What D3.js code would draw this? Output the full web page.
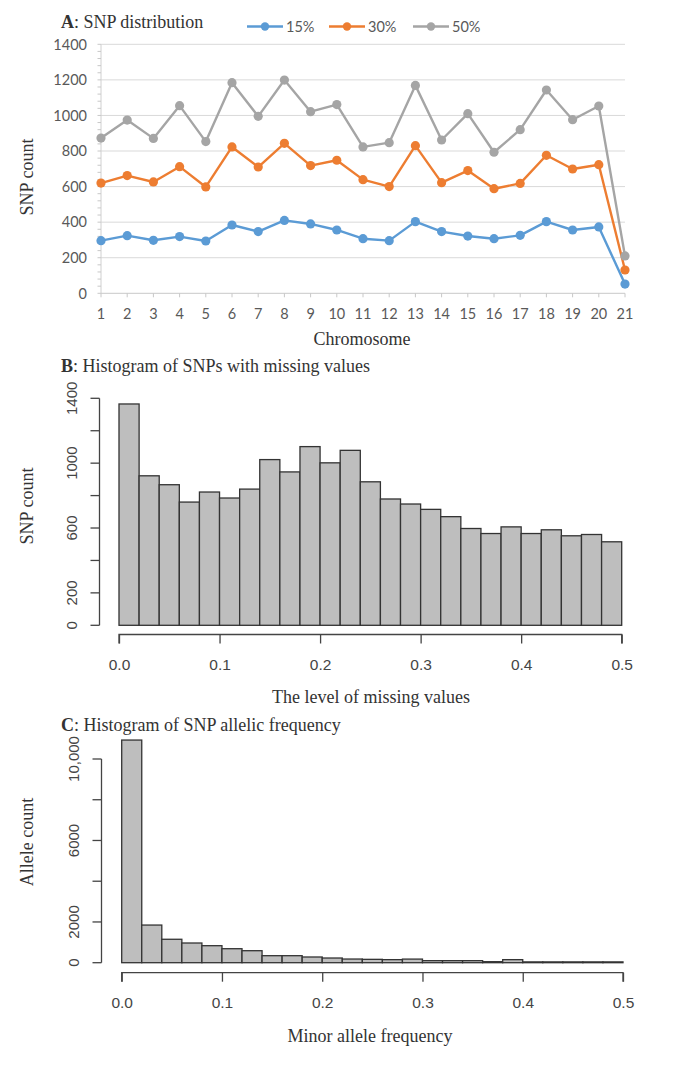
<!DOCTYPE html>
<html>
<head>
<meta charset="utf-8">
<script src="https://cdn.jsdelivr.net/npm/d3@7"></script>
<style>
  html, body { margin: 0; padding: 0; background: #fff; }
  svg { display: block; }
</style>
</head>
<body>
<svg id="chart" width="676" height="1075"></svg>
<script>
// ---------- DATA ----------
const chromosomes = ["1","2","3","4","5","6","7","8","9","10","11","12","13","14","15","16","17","18","19","20","21"];
const seriesNames = ["15%", "30%", "50%"];
const snp15 = [296,324,298,319,294,384,347,410,390,356,307,296,403,347,322,307,326,403,356,373,52];
const snp30 = [620,662,626,712,598,823,710,843,718,748,639,600,830,622,690,588,618,776,699,723,131];
const snp50 = [873,974,871,1055,853,1184,995,1199,1021,1061,823,847,1169,862,1010,793,920,1143,976,1053,210];
const yTicksA = [0,200,400,600,800,1000,1200,1400];

const binStarts = [0,0.02,0.04,0.06,0.08,0.10,0.12,0.14,0.16,0.18,0.20,0.22,0.24,0.26,0.28,0.30,0.32,0.34,0.36,0.38,0.40,0.42,0.44,0.46,0.48];
const binWidth = 0.02;
const missingCounts = [1365,922,867,760,822,785,840,1022,946,1102,1002,1079,885,779,748,715,670,597,566,607,566,589,552,560,515];
const yTicksB = [0,200,400,600,800,1000,1200,1400];
const yLabelsB = ["0","200","600","1000","1400"];

const mafCounts = [10930,1848,1150,967,835,687,589,344,344,280,230,180,165,150,177,100,100,100,50,150,40,40,40,40,40];
const yTicksC = [0,2000,4000,6000,8000,10000];
const yLabelsC = ["0","2000","6000","10,000"];
const xTicksHist = [0,0.1,0.2,0.3,0.4,0.5];

// ---------- STYLE ----------
const colors = ["#5B9BD5", "#ED7D31", "#A5A5A5"];
const serif = "'Liberation Serif', 'Times New Roman', serif";
const sansA = "Lato, 'Open Sans', sans-serif";
const sansR = "'Liberation Sans', Arial, sans-serif";
const textDark = "#333";

const svg = d3.select("#chart");
svg.append("rect").attr("width", 676).attr("height", 1075).attr("fill", "#fff");

function title(y, letter, rest) {
  const t = svg.append("text").attr("x", 61).attr("y", y)
    .attr("font-family", serif).attr("font-size", 18).attr("fill", textDark);
  t.append("tspan").attr("font-weight", "bold").text(letter);
  t.append("tspan").text(rest);
}
function ylab(x, y, txt) {
  svg.append("text").attr("transform", `translate(${x},${y}) rotate(-90)`)
    .attr("text-anchor", "middle").attr("font-family", serif).attr("font-size", 18)
    .attr("fill", textDark).text(txt);
}
function xlab(x, y, txt) {
  svg.append("text").attr("x", x).attr("y", y).attr("text-anchor", "middle")
    .attr("font-family", serif).attr("font-size", 18).attr("fill", textDark).text(txt);
}

// ---------- PANEL A ----------
const xA = d3.scalePoint().domain(chromosomes).range([101, 625]);
const yA = d3.scaleLinear().domain([0, 1400]).range([293.3, 44.3]);
const gA = svg.append("g");

gA.selectAll("line.grid").data(yTicksA.filter(d => d > 0)).join("line")
  .attr("x1", 101).attr("x2", 625).attr("y1", d => yA(d)).attr("y2", d => yA(d))
  .attr("stroke", "#D9D9D9").attr("stroke-width", 1);
gA.append("line").attr("x1", 101).attr("x2", 101).attr("y1", yA(0)).attr("y2", yA(1400))
  .attr("stroke", "#D0D0D0").attr("stroke-width", 1);
gA.selectAll("line.minor").data(d3.range(0, 1401, 40)).join("line")
  .attr("x1", 97.5).attr("x2", 101).attr("y1", d => yA(d)).attr("y2", d => yA(d))
  .attr("stroke", "#C8C8C8").attr("stroke-width", 1);
gA.append("line").attr("x1", 101).attr("x2", 625).attr("y1", yA(0)).attr("y2", yA(0))
  .attr("stroke", "#C8C8C8").attr("stroke-width", 1);
gA.selectAll("line.xt").data(chromosomes).join("line")
  .attr("x1", d => xA(d)).attr("x2", d => xA(d)).attr("y1", yA(0)).attr("y2", yA(0) + 4)
  .attr("stroke", "#C8C8C8").attr("stroke-width", 1);
gA.selectAll("text.yt").data(yTicksA).join("text")
  .attr("x", 87).attr("y", d => yA(d)).attr("dy", "0.36em").attr("text-anchor", "end")
  .attr("font-family", sansA).attr("font-size", 14.5).attr("fill", "#595959").text(d => d);
gA.selectAll("text.xt").data(chromosomes).join("text")
  .attr("x", d => xA(d)).attr("y", 318.5).attr("text-anchor", "middle")
  .attr("font-family", sansA).attr("font-size", 14.5).attr("fill", "#595959").text(d => d);

const seriesA = [snp15, snp30, snp50];
const lineA = d3.line().x((d, i) => xA(chromosomes[i])).y(d => yA(d));
seriesA.forEach((vals, si) => {
  gA.append("path").datum(vals).attr("d", lineA).attr("fill", "none")
    .attr("stroke", colors[si]).attr("stroke-width", 2.4).attr("stroke-linejoin", "round");
  gA.selectAll(null).data(vals).join("circle")
    .attr("cx", (d, i) => xA(chromosomes[i])).attr("cy", d => yA(d)).attr("r", 4.6)
    .attr("fill", colors[si]);
});

const legX = [247, 329, 413];
seriesNames.forEach((name, i) => {
  const lg = svg.append("g").attr("transform", `translate(${legX[i]},26.5)`);
  lg.append("line").attr("x1", 0).attr("x2", 36).attr("y1", 0).attr("y2", 0)
    .attr("stroke", colors[i]).attr("stroke-width", 2.4);
  lg.append("circle").attr("cx", 18).attr("cy", 0).attr("r", 4.2).attr("fill", colors[i]);
  lg.append("text").attr("x", 39).attr("y", 0).attr("dy", "0.36em")
    .attr("font-family", sansA).attr("font-size", 14.5).attr("fill", "#595959").text(name);
});

title(28, "A", ": SNP distribution");
ylab(33, 177, "SNP count");
xlab(362, 345, "Chromosome");

// ---------- HISTOGRAM helper ----------
function histogram(opt) {
  const { counts, x, y, yTicks, yLabels, yAxisX, yLabelX, xAxisY } = opt;
  const g = svg.append("g");
  g.selectAll("rect").data(counts).join("rect")
    .attr("x", (d, i) => x(binStarts[i]))
    .attr("width", (d, i) => x(binStarts[i] + binWidth) - x(binStarts[i]))
    .attr("y", d => y(d)).attr("height", d => y(0) - y(d))
    .attr("fill", "#BEBEBE").attr("stroke", "#333").attr("stroke-width", 1.3);
  g.append("line").attr("x1", yAxisX).attr("x2", yAxisX)
    .attr("y1", y(yTicks[0])).attr("y2", y(yTicks[yTicks.length - 1]))
    .attr("stroke", "#444").attr("stroke-width", 1.3);
  g.selectAll("line.yt").data(yTicks).join("line")
    .attr("x1", yAxisX - 9).attr("x2", yAxisX).attr("y1", d => y(d)).attr("y2", d => y(d))
    .attr("stroke", "#444").attr("stroke-width", 1.3);
  g.selectAll("text.yl").data(yLabels).join("text")
    .attr("transform", d => `translate(${yLabelX},${y(+d.replace(/,/g, ""))}) rotate(-90)`)
    .attr("text-anchor", "middle").attr("font-family", sansR).attr("font-size", 15)
    .attr("fill", "#454545").text(d => d);
  const xa = d3.axisBottom(x).tickValues(xTicksHist).tickSize(9).tickFormat(d3.format(".1f"));
  const ga = g.append("g").attr("transform", `translate(0,${xAxisY})`).call(xa);
  ga.select(".domain").attr("d", `M${x(0)},9V0H${x(0.5)}V9`).attr("stroke", "#444").attr("stroke-width", 1.3);
  ga.selectAll(".tick line").attr("stroke", "#444").attr("stroke-width", 1.3);
  ga.selectAll(".tick text").attr("font-family", sansR).attr("font-size", 15.5)
    .attr("fill", "#454545").attr("y", 24).attr("dy", "0.71em");
}

// ---------- PANEL B ----------
const xB = d3.scaleLinear().domain([0, 0.5]).range([119, 621.7]);
const yB = d3.scaleLinear().domain([0, 1400]).range([625.3, 398.3]);
histogram({ counts: missingCounts, x: xB, y: yB, yTicks: yTicksB, yLabels: yLabelsB,
  yAxisX: 99.5, yLabelX: 77, xAxisY: 634.5 });
title(372, "B", ": Histogram of SNPs with missing values");
ylab(33, 506, "SNP count");
xlab(371, 703, "The level of missing values");

// ---------- PANEL C ----------
const xC = d3.scaleLinear().domain([0, 0.5]).range([121.7, 623]);
const yC = d3.scaleLinear().domain([0, 10000]).range([962.7, 759]);
histogram({ counts: mafCounts, x: xC, y: yC, yTicks: yTicksC, yLabels: yLabelsC,
  yAxisX: 101.5, yLabelX: 78.5, xAxisY: 972.7 });
title(731, "C", ": Histogram of SNP allelic frequency");
ylab(33, 842, "Allele count");
xlab(370, 1042, "Minor allele frequency");
</script>
</body>
</html>
